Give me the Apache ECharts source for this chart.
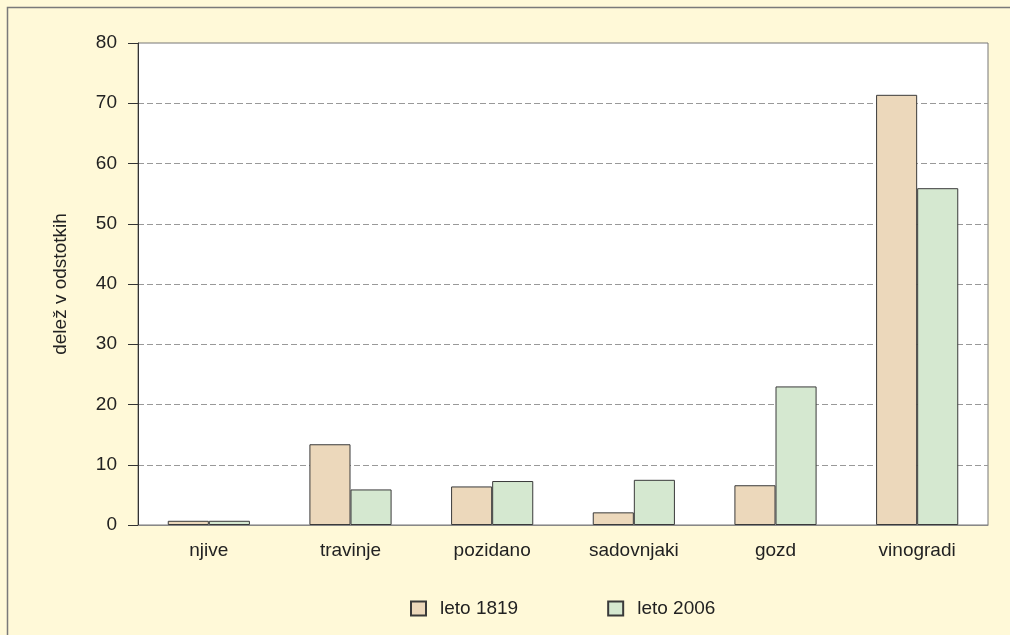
<!DOCTYPE html>
<html>
<head>
<meta charset="utf-8">
<script src="https://cdn.jsdelivr.net/npm/echarts@6/dist/echarts.min.js"></script>
<style>
html,body{margin:0;padding:0;background:#fff9d8;}
#chart{width:1010px;height:635px;}
</style>
</head>
<body>
<div id="chart"></div>
<script>
const categories = ['njive', 'travinje', 'pozidano', 'sadovnjaki', 'gozd', 'vinogradi'];
const series1819 = [0.7, 13.4, 6.4, 2.1, 6.6, 71.4];
const series2006 = [0.7, 5.9, 7.3, 7.5, 23.0, 55.9];
const seriesNames = ['leto 1819', 'leto 2006'];
const yTitle = 'delež v odstotkih';

const FONT = '"Liberation Sans", Arial, sans-serif';
const TXT = '#222';
const FS = 19;

const chart = echarts.init(document.getElementById('chart'), null, {renderer: 'canvas'});
chart.setOption({
  backgroundColor: '#fff9d8',
  animation: false,
  textStyle: {fontFamily: FONT, color: TXT},
  graphic: [{
    type: 'rect',
    shape: {x: 7.5, y: 7.5, width: 1100, height: 700},
    style: {fill: 'none', stroke: '#7a7a7a', lineWidth: 1.5},
    z: -10
  }],
  grid: {
    left: 138, top: 43, right: 22, bottom: 110,
    show: true, backgroundColor: '#ffffff', borderColor: '#777', borderWidth: 1
  },
  legend: {
    left: 405, top: 594,
    icon: 'rect',
    itemWidth: 15, itemHeight: 14, itemGap: 89,
    textStyle: {fontFamily: FONT, fontSize: FS, color: TXT, padding: [0, 0, 0, 9]},
    data: seriesNames
  },
  xAxis: {
    type: 'category',
    data: categories,
    axisLine: {lineStyle: {color: '#888', width: 1}},
    axisTick: {show: false},
    axisLabel: {fontFamily: FONT, fontSize: FS, color: TXT, margin: 16}
  },
  yAxis: {
    type: 'value',
    min: 0, max: 80, interval: 10,
    name: yTitle,
    nameLocation: 'middle',
    nameGap: 68,
    nameTextStyle: {fontFamily: FONT, fontSize: FS, color: TXT},
    axisLine: {show: true, lineStyle: {color: '#333', width: 1}},
    axisTick: {show: true, length: 10, lineStyle: {color: '#333'}},
    axisLabel: {fontFamily: FONT, fontSize: FS, color: TXT, margin: 21},
    splitLine: {show: true, showMinLine: false, showMaxLine: false, lineStyle: {color: '#999', type: [6, 3], width: 1}}
  },
  series: [{
    name: seriesNames[0],
    type: 'bar',
    data: series1819,
    barGap: '0%',
    barCategoryGap: '42%',
    itemStyle: {color: '#ecd8bb', borderColor: '#3a3a3a', borderWidth: 1}
  }, {
    name: seriesNames[1],
    type: 'bar',
    data: series2006,
    barGap: '0%',
    barCategoryGap: '42%',
    itemStyle: {color: '#d5e8d0', borderColor: '#3a3a3a', borderWidth: 1}
  }]
});
</script>
</body>
</html>
